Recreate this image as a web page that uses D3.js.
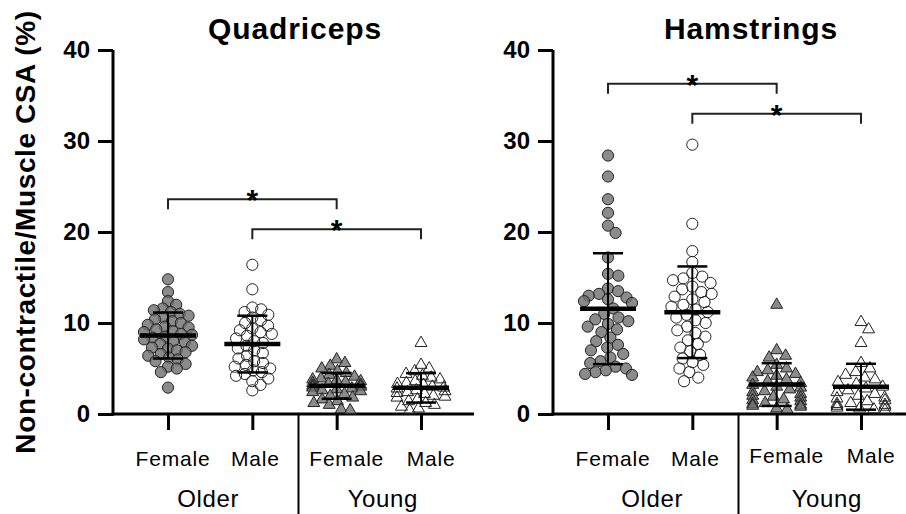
<!DOCTYPE html>
<html>
<head>
<meta charset="utf-8">
<script src="https://cdn.jsdelivr.net/npm/d3@7"></script>
<style>
  body { margin: 0; background: #fff; }
  text { font-family: "Liberation Sans", Arial, sans-serif; fill: #000; }
</style>
</head>
<body>
<svg id="chart" width="906" height="514"></svg>
<script>
const groups = ["Older Female", "Older Male", "Young Female", "Young Male"];
const sexLabels = ["Female", "Male", "Female", "Male"];
const ageLabels = ["Older", "Young"];
const yTicks = [0, 10, 20, 30, 40];

// Quadriceps values (%)
const quadOlderFemale = [14.8, 13.4, 12.4, 12.0, 11.6, 11.4, 11.2, 11.0, 10.8, 10.6, 10.4, 10.2, 10.0, 9.8, 9.6, 9.5, 9.3, 9.1, 9.0, 8.8, 8.7, 8.5, 8.4, 8.2, 8.0, 7.9, 7.7, 7.5, 7.3, 7.2, 7.0, 6.8, 6.6, 6.4, 6.2, 6.0, 5.8, 5.5, 5.2, 5.0, 4.6, 2.9];
const quadOlderMale = [16.4, 13.7, 11.7, 11.5, 11.2, 10.9, 10.6, 10.3, 10.0, 9.7, 9.4, 9.2, 9.0, 8.8, 8.6, 8.3, 8.0, 7.8, 7.5, 7.2, 7.0, 6.7, 6.4, 6.1, 5.8, 5.6, 5.4, 5.2, 5.0, 4.8, 4.6, 4.4, 4.2, 3.9, 3.6, 3.2, 2.6];
const quadYoungFemale = [6.0, 5.6, 5.3, 5.0, 4.7, 4.5, 4.3, 4.1, 3.9, 3.8, 3.7, 3.6, 3.5, 3.4, 3.3, 3.2, 3.1, 3.0, 2.9, 2.8, 2.7, 2.6, 2.5, 2.4, 2.2, 2.0, 1.8, 1.6, 1.4, 1.2, 1.0, 0.5, 0.4];
const quadYoungMale = [7.8, 5.4, 5.0, 4.7, 4.4, 4.2, 4.0, 3.8, 3.6, 3.4, 3.3, 3.2, 3.0, 2.9, 2.8, 2.6, 2.5, 2.4, 2.3, 2.2, 2.0, 1.9, 1.8, 1.6, 1.4, 1.2, 1.0, 0.8, 0.6, 0.4];

// Hamstrings values (%)
const hamOlderFemale = [28.4, 26.1, 23.6, 22.1, 20.7, 19.9, 17.2, 15.4, 15.2, 13.8, 13.5, 13.2, 13.0, 12.8, 12.6, 12.4, 12.2, 11.6, 11.0, 10.6, 10.4, 10.2, 9.9, 9.6, 9.3, 9.0, 8.4, 8.0, 7.6, 7.3, 7.0, 6.6, 6.2, 5.8, 5.6, 5.2, 5.0, 4.8, 4.6, 4.4, 4.3];
const hamOlderMale = [29.6, 20.9, 17.9, 16.7, 15.5, 15.1, 14.9, 14.7, 14.4, 14.0, 13.7, 13.4, 13.2, 12.9, 12.6, 12.3, 12.0, 11.8, 11.5, 11.2, 10.9, 10.6, 10.3, 10.0, 9.6, 9.2, 8.9, 8.5, 8.1, 7.7, 7.3, 6.9, 6.5, 6.1, 5.7, 5.4, 5.0, 4.6, 4.0, 3.6];
const hamYoungFemale = [12.0, 7.0, 6.4, 6.2, 5.4, 5.0, 4.8, 4.6, 4.4, 4.2, 4.0, 3.8, 3.6, 3.4, 3.2, 3.0, 2.9, 2.7, 2.5, 2.4, 2.2, 2.0, 1.9, 1.8, 1.6, 1.5, 1.4, 1.2, 1.1, 1.0, 0.9, 0.8, 0.6, 0.5];
const hamYoungMale = [10.1, 9.3, 7.8, 5.6, 5.0, 4.6, 4.3, 4.0, 3.8, 3.5, 3.3, 3.0, 2.8, 2.6, 2.4, 2.2, 2.0, 1.8, 1.7, 1.5, 1.4, 1.2, 1.1, 1.0, 0.9, 0.8, 0.7, 0.6, 0.5, 0.4];

// significance brackets: group index pairs and height (%)
const quadBrackets = [{ from: 0, to: 2, y: 23.6 }, { from: 1, to: 3, y: 20.3 }];
const hamBrackets = [{ from: 0, to: 2, y: 36.3 }, { from: 1, to: 3, y: 33.0 }];

const panels = [
    { title: "Quadriceps", series: [quadOlderFemale, quadOlderMale, quadYoungFemale, quadYoungMale], brackets: quadBrackets, dx: 0, titleX: 295, gap: 9 },
    { title: "Hamstrings", series: [hamOlderFemale, hamOlderMale, hamYoungFemale, hamYoungMale], brackets: hamBrackets, dx: 440, titleX: 311, gap: 10.5 }
];

const svg = d3.select("#chart");
const axisX = 113, axisEnd = 474;
const labelShift = [5, 3, 10, 10];

const y = d3.scaleLinear().domain([0, 40]).range([414, 50]);
const x = d3.scalePoint().domain(groups).range([168, 421]);

const grayFill = "rgba(110,110,110,0.8)";

// simple beeswarm: place each point at the smallest offset that doesn't collide
function swarm(values, dist, maxOff) {
    const pts = values.map(v => ({ v, py: y(v) })).sort((a, b) => a.py - b.py);
    const placed = [];
    pts.forEach(p => {
        const cands = [0];
        placed.forEach(q => {
            const dy = p.py - q.py;
            if (Math.abs(dy) < dist) {
                const d = Math.sqrt(dist * dist - dy * dy);
                cands.push(q.dx + d, q.dx - d);
            }
        });
        cands.sort((a, b) => Math.abs(a) - Math.abs(b));
        let best = cands.find(c => placed.every(q => (c - q.dx) ** 2 + (p.py - q.py) ** 2 >= dist * dist - 0.01));
        if (best === undefined) best = 0;
        p.dx = Math.max(-maxOff, Math.min(maxOff, best));
        placed.push(p);
    });
    return pts;
}

// y axis title
svg.append("text")
    .attr("transform", "translate(35,232) rotate(-90)")
    .attr("text-anchor", "middle")
    .style("font-size", "28px")
    .style("font-weight", "bold")
    .style("letter-spacing", "0.6px")
    .text("Non-contractile/Muscle CSA (%)");

panels.forEach(panel => {
    const g = svg.append("g").attr("transform", `translate(${panel.dx},0)`);

    g.append("text")
        .attr("x", panel.titleX)
        .attr("y", 39)
        .attr("text-anchor", "middle")
        .style("font-size", "30px")
        .style("font-weight", "bold")
        .style("letter-spacing", "0.9px")
        .text(panel.title);

    // y axis
    const yAxis = g.append("g")
        .attr("transform", `translate(${axisX},0)`)
        .call(d3.axisLeft(y).tickValues(yTicks).tickSize(15).tickSizeOuter(0).tickPadding(8));
    yAxis.select(".domain").attr("stroke-width", 3).attr("d", `M0,${y(0) + 1.5}V${y(40)}`);
    yAxis.selectAll(".tick line").attr("stroke-width", 3);
    yAxis.selectAll(".tick text")
        .style("font-size", "24px")
        .style("font-weight", "bold")
        .style("font-family", "'Liberation Sans', Arial, sans-serif");

    // x axis
    const xAxis = g.append("g")
        .attr("transform", `translate(0,${y(0)})`)
        .call(d3.axisBottom(x).tickSize(16).tickFormat(""));
    xAxis.select(".domain").remove();
    xAxis.selectAll(".tick line").attr("stroke-width", 3);
    g.append("line")
        .attr("x1", axisX - 1.5).attr("x2", axisEnd)
        .attr("y1", y(0)).attr("y2", y(0))
        .attr("stroke", "#000").attr("stroke-width", 3);

    // separator between Older and Young
    const sepX = (x(groups[1]) + x(groups[2])) / 2 + 4;
    g.append("line")
        .attr("x1", sepX).attr("x2", sepX)
        .attr("y1", y(0)).attr("y2", 514)
        .attr("stroke", "#000").attr("stroke-width", 2);

    groups.forEach((grp, i) => {
        g.append("text")
            .attr("x", x(grp) + labelShift[i])
            .attr("y", i < 2 || panel.dx === 0 ? 466 : 463)
            .attr("text-anchor", "middle")
            .style("font-size", "21px")
            .style("letter-spacing", "0.8px")
            .text(sexLabels[i]);
    });
    ageLabels.forEach((lab, i) => {
        const cx = (x(groups[i * 2]) + x(groups[i * 2 + 1])) / 2 + (i === 0 ? 0 : 6);
        g.append("text")
            .attr("x", cx + (panel.dx === 0 ? -2 : 2))
            .attr("y", 507)
            .attr("text-anchor", "middle")
            .style("font-size", "24px")
            .style("letter-spacing", "0.6px")
            .text(lab);
    });

    // points
    panel.series.forEach((vals, i) => {
        const cx = x(groups[i]);
        const pts = swarm(vals, panel.gap, 24);
        const filled = i % 2 === 0;
        if (i < 2) {
            g.selectAll(null)
                .data(pts)
                .enter()
                .append("circle")
                .attr("cx", d => cx + d.dx)
                .attr("cy", d => d.py)
                .attr("r", 5.6)
                .attr("fill", filled ? grayFill : "none")
                .attr("stroke", "#222")
                .attr("stroke-width", 1);
        } else {
            g.selectAll(null)
                .data(pts)
                .enter()
                .append("path")
                .attr("d", d3.symbol(d3.symbolTriangle, 62))
                .attr("transform", d => `translate(${cx + d.dx},${d.py})`)
                .attr("fill", filled ? grayFill : "none")
                .attr("stroke", "#222")
                .attr("stroke-width", 1);
        }

        // mean and SD
        const m = d3.mean(vals), sd = d3.deviation(vals);
        g.append("line")
            .attr("x1", cx).attr("x2", cx)
            .attr("y1", y(m + sd)).attr("y2", y(Math.max(0, m - sd)))
            .attr("stroke", "#000").attr("stroke-width", 2);
        [m + sd, m - sd].forEach(v => {
            g.append("line")
                .attr("x1", cx - 15).attr("x2", cx + 15)
                .attr("y1", y(v)).attr("y2", y(v))
                .attr("stroke", "#000").attr("stroke-width", 2.5);
        });
        g.append("line")
            .attr("x1", cx - 28).attr("x2", cx + 28)
            .attr("y1", y(m)).attr("y2", y(m))
            .attr("stroke", "#000").attr("stroke-width", 4.5);
    });

    // significance brackets
    panel.brackets.forEach(b => {
        const x1 = x(groups[b.from]), x2 = x(groups[b.to]), by = y(b.y);
        g.append("path")
            .attr("d", `M${x1},${by + 10}V${by}H${x2}V${by + 10}`)
            .attr("fill", "none")
            .attr("stroke", "#222")
            .attr("stroke-width", 2);
        g.append("text")
            .attr("x", (x1 + x2) / 2)
            .attr("y", by + 11)
            .attr("text-anchor", "middle")
            .style("font-size", "30px")
            .style("font-weight", "bold")
            .text("*");
    });
});
</script>
</body>
</html>
